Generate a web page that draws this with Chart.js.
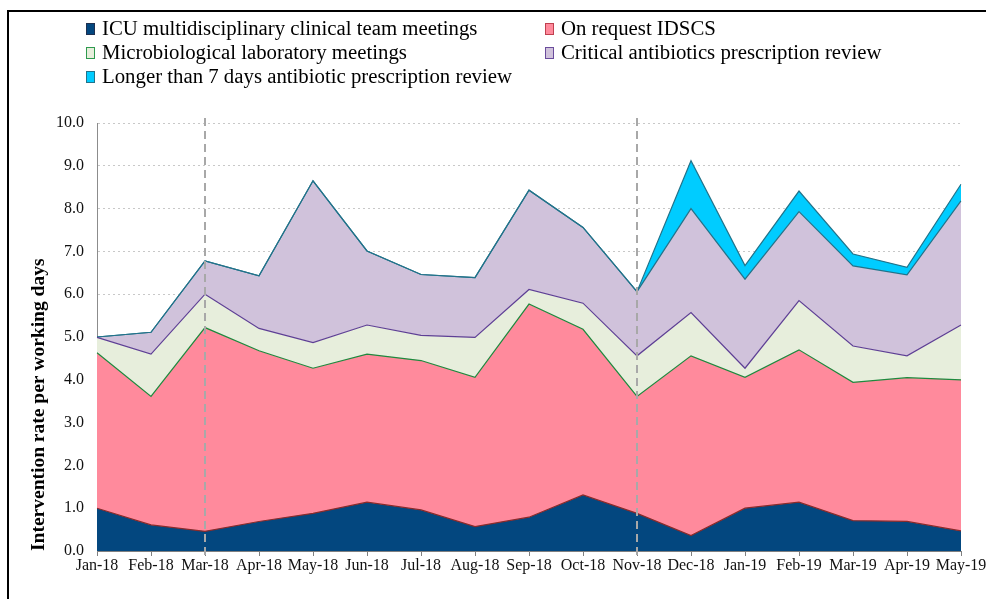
<!DOCTYPE html>
<html>
<head>
<meta charset="utf-8">
<script src="https://cdn.jsdelivr.net/npm/chart.js@4.4.1/dist/chart.umd.min.js"></script>
<style>
  html, body { margin:0; padding:0; background:#fff; }
  #wrap { position:relative; width:986px; height:599px; overflow:hidden; font-family:"Liberation Serif", serif; }
  #frame { position:absolute; left:7px; top:10px; width:1000px; height:700px; border-left:2px solid #000; border-top:2px solid #000; box-sizing:border-box; }
  canvas { position:absolute; left:0; top:0; }
  .lg { position:absolute; font-size:20.8px; color:#000; white-space:nowrap; line-height:22px; }
  .lg i { display:inline-block; width:9px; height:12px; margin-right:7px; vertical-align:0px; box-sizing:border-box; border:1px solid #000; }
</style>
</head>
<body>
<div id="wrap">
  <div id="frame"></div>
  <canvas id="c" width="986" height="599"></canvas>
  <div id="legend"></div>
</div>
<script>
// ---- data ----
const months = ['Jan-18','Feb-18','Mar-18','Apr-18','May-18','Jun-18','Jul-18','Aug-18','Sep-18','Oct-18','Nov-18','Dec-18','Jan-19','Feb-19','Mar-19','Apr-19','May-19'];
const icuMeetings   = [1.00,0.61,0.46,0.69,0.88,1.14,0.96,0.57,0.79,1.31,0.88,0.36,1.00,1.14,0.71,0.69,0.47];
const onRequest     = [3.63,3.00,4.76,3.99,3.39,3.46,3.49,3.49,4.98,3.87,2.73,4.20,3.06,3.56,3.23,3.36,3.53];
const microLab      = [0.36,0.99,0.78,0.52,0.60,0.68,0.59,0.93,0.34,0.61,0.95,1.01,0.21,1.15,0.85,0.51,1.28];
const criticalReview= [0.01,0.51,0.78,1.23,3.78,1.73,1.42,1.40,2.32,1.77,1.50,2.43,2.08,2.08,1.87,1.89,2.90];
const longer7Review = [0,0,0,0,0,0,0,0,0,0,0,1.12,0.32,0.48,0.28,0.18,0.39];
const seriesNames = ['ICU multidisciplinary clinical team meetings','On request IDSCS','Microbiological laboratory meetings','Critical antibiotics prescription review','Longer than 7 days antibiotic prescription review'];
const phaseMarks = ['Mar-18','Nov-18'];
const yTicks = [0,1,2,3,4,5,6,7,8,9,10];

// ---- styles ----
const fills   = ['#03477F','#FF8A9C','#E7EEDC','#D0C2DB','#00CCFF'];
const lines   = ['#8B2A2A','#1E8A3E','#5E3F95','#22738A','#22738A'];
const markBdr = ['#1F3050','#C0404F','#2E9A4E','#6A4C9C','#22738A'];
const values  = [icuMeetings,onRequest,microLab,criticalReview,longer7Review];

// legend (HTML)
const legPos = [[86,17],[545,17],[86,41],[545,41],[86,65]];
const lg = document.getElementById('legend');
seriesNames.forEach((n,i)=>{
  const d = document.createElement('div');
  d.className='lg'; d.style.left=legPos[i][0]+'px'; d.style.top=legPos[i][1]+'px';
  d.innerHTML = '<i style="background:'+fills[i]+';border-color:'+markBdr[i]+'"></i>';
  d.appendChild(document.createTextNode(n));
  lg.appendChild(d);
});

const phasePlugin = {
  id:'phase',
  afterDatasetsDraw(chart){
    const {ctx, chartArea, scales:{x}} = chart;
    ctx.save();
    ctx.strokeStyle='#A8A8A8'; ctx.lineWidth=2; ctx.setLineDash([8,5]);
    phaseMarks.forEach(m=>{
      const px = Math.round(x.getPixelForValue(months.indexOf(m)));
      ctx.beginPath(); ctx.moveTo(px, chartArea.top-5); ctx.lineTo(px, chartArea.bottom+6); ctx.stroke();
    });
    ctx.restore();
  }
};

new Chart(document.getElementById('c'), {
  type:'line',
  data:{
    labels: months,
    datasets: values.map((v,i)=>({
      label: seriesNames[i], data: v,
      backgroundColor: fills[i], borderColor: lines[i], borderWidth: 1.2,
      fill: i===0 ? 'origin' : '-1', pointRadius:0, tension:0
    }))
  },
  options:{
    responsive:false, animation:false,
    layout:{ padding:{ top:123, right:25, bottom:0, left:0 } },
    plugins:{ legend:{display:false}, tooltip:{enabled:false}, filler:{drawTime:'beforeDatasetsDraw'} },
    scales:{
      x:{
        offset:false,
        grid:{ drawOnChartArea:false, drawTicks:true, tickLength:5, color:'#808080' },
        border:{ color:'#808080', width:1 },
        ticks:{ autoSkip:false, maxRotation:0, padding:0, color:'#111', font:{ family:'Liberation Serif', size:16 } },
        afterFit(s){ s.height = 48; s.paddingLeft = 0; s.paddingRight = 0; }
      },
      y:{
        stacked:true, min:0, max:10,
        afterBuildTicks(s){ s.ticks = yTicks.map(v=>({value:v})); },
        grid:{ color:'#C8C8C8', lineWidth:1, drawTicks:false },
        border:{ color:'#8C8C8C', width:1, dash:[2,3] },
        ticks:{ padding:13, color:'#111', font:{ family:'Liberation Serif', size:16 }, callback:v=>Number(v).toFixed(1) },
        title:{ display:true, text:'Intervention rate per working days', align:'start', color:'#000', padding:{top:27,bottom:0}, font:{ family:'Liberation Serif', size:19.5, weight:'bold' } },
        afterFit(s){ s.width = 97; }
      }
    }
  },
  plugins:[phasePlugin]
});
</script>
</body>
</html>
